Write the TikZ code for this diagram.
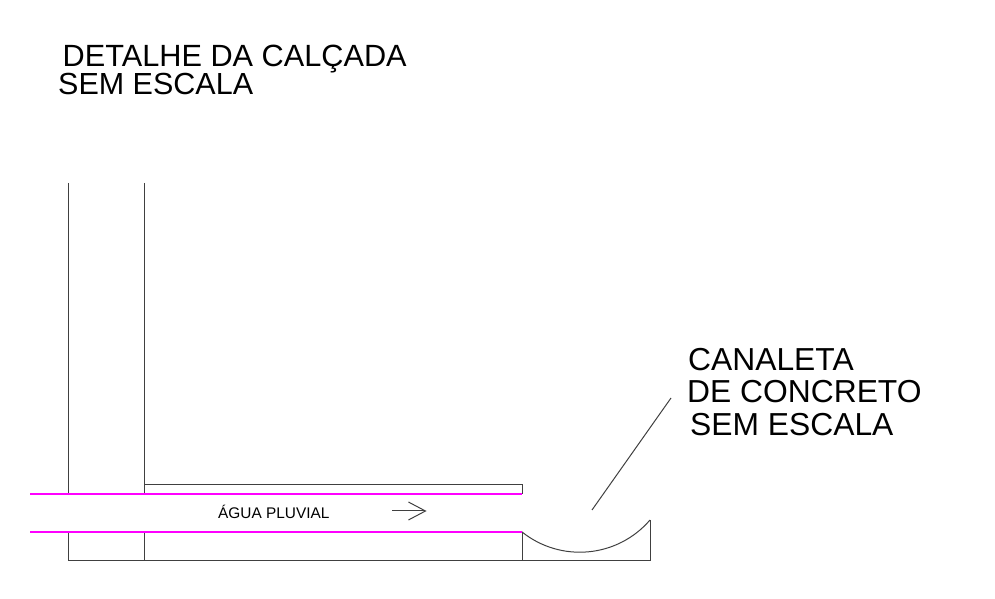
\documentclass[tikz,border=0pt]{standalone}
\usepackage{fontspec}
\setmainfont{Liberation Sans}
\usetikzlibrary{arrows.meta}
\definecolor{aguacor}{RGB}{255,0,255}
\tikzset{label/.style = {anchor = base west, inner sep = 0, text = black}}
\tikzset{traco/.style = {line width = 1, black!75}}
\tikzset{agua/.style = {line width = 1.6, aguacor}}
\begin{document}
\begin{tikzpicture}[x=1pt,y=1pt]
        \useasboundingbox (0,0) rectangle (995,599);
        \draw [traco] (68,416)--(68,105) (68,67)--(68,38.5)--(650,38.5)--(650,79);
        \draw [traco] (144,416)--(144,105) (144,67)--(144,38.5);
        \draw [traco] (144,114)--(522,114)--(522,105);
        \draw [traco] (522,67)--(522,38.5);
        \draw [traco] (650,79) arc (319.3:231.2:92.6);
        \draw [agua] (30,105)--(522,105);
        \draw [agua] (30,67)--(522,67);
        \node [label,font=\fontsize{30.7}{30}\selectfont] (titulo) at (62.5,532.8) {DETALHE DA CALÇADA};
        \node [label,font=\fontsize{30.5}{30}\selectfont] (escala) at (58,504) {SEM ESCALA};
        \node [label,font=\fontsize{31.8}{30}\selectfont] (canaleta) at (688,228.5) {CANALETA};
        \node [label,font=\fontsize{31.8}{30}\selectfont] (concreto) at (687,196) {DE CONCRETO};
        \node [label,font=\fontsize{31.8}{30}\selectfont] (semescala) at (690,163) {SEM ESCALA};
        \node [label,font=\fontsize{15.4}{15}\selectfont] (pluvial) at (218,80) {ÁGUA PLUVIAL};
        \coordinate (fluxoa) at (392,88);
        \coordinate (fluxob) at (426.5,88);
        \coordinate (guiaa) at (671,201);
        \coordinate (guiab) at (592,89);
        \draw [traco,-{Straight Barb[length=17,width=18]}] (fluxoa)--(fluxob);
        \draw [traco] (guiaa)--(guiab);
    \end{tikzpicture}
\end{document}
